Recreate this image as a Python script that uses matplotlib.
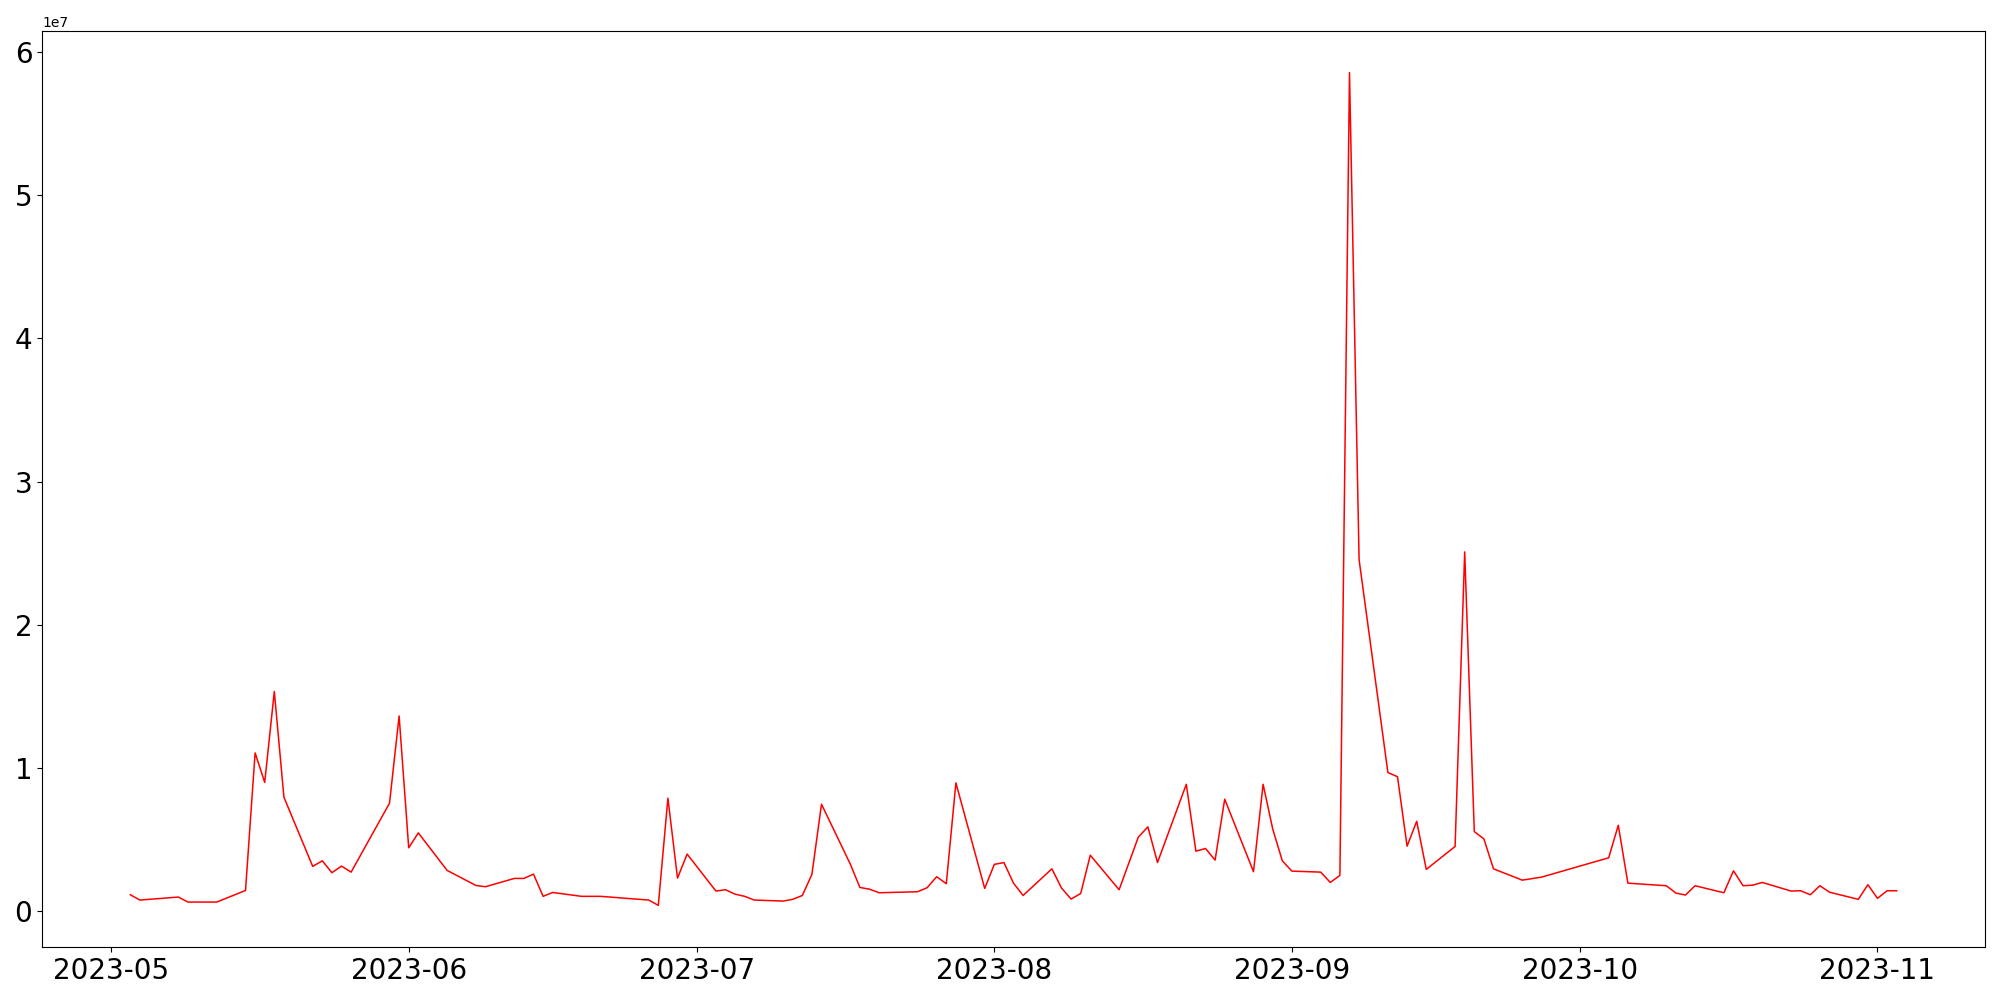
import matplotlib
matplotlib.use("Agg")
import matplotlib.pyplot as plt
import pandas as pd

# trading days with values (units of 1e7)
dates = [
    "2023-05-03", "2023-05-04", "2023-05-08", "2023-05-09", "2023-05-12",
    "2023-05-15", "2023-05-16", "2023-05-17", "2023-05-18", "2023-05-19",
    "2023-05-22", "2023-05-23", "2023-05-24", "2023-05-25", "2023-05-26",
    "2023-05-30", "2023-05-31", "2023-06-01", "2023-06-02", "2023-06-05",
    "2023-06-08", "2023-06-09", "2023-06-12", "2023-06-13", "2023-06-14",
    "2023-06-15", "2023-06-16", "2023-06-19", "2023-06-21", "2023-06-26",
    "2023-06-27", "2023-06-28", "2023-06-29", "2023-06-30", "2023-07-03",
    "2023-07-04", "2023-07-05", "2023-07-06", "2023-07-07", "2023-07-10",
    "2023-07-11", "2023-07-12", "2023-07-13", "2023-07-14", "2023-07-17",
    "2023-07-18", "2023-07-19", "2023-07-20", "2023-07-24", "2023-07-25",
    "2023-07-26", "2023-07-27", "2023-07-28", "2023-07-31", "2023-08-01",
    "2023-08-02", "2023-08-03", "2023-08-04", "2023-08-07", "2023-08-08",
    "2023-08-09", "2023-08-10", "2023-08-11", "2023-08-14", "2023-08-16",
    "2023-08-17", "2023-08-18", "2023-08-21", "2023-08-22", "2023-08-23",
    "2023-08-24", "2023-08-25", "2023-08-28", "2023-08-29", "2023-08-30",
    "2023-08-31", "2023-09-01", "2023-09-04", "2023-09-05", "2023-09-06",
    "2023-09-07", "2023-09-08", "2023-09-11", "2023-09-12", "2023-09-13",
    "2023-09-14", "2023-09-15", "2023-09-18", "2023-09-19", "2023-09-20",
    "2023-09-21", "2023-09-22", "2023-09-25", "2023-09-27", "2023-10-04",
    "2023-10-05", "2023-10-06", "2023-10-10", "2023-10-11", "2023-10-12",
    "2023-10-13", "2023-10-16", "2023-10-17", "2023-10-18", "2023-10-19",
    "2023-10-20", "2023-10-23", "2023-10-24", "2023-10-25", "2023-10-26",
    "2023-10-27", "2023-10-30", "2023-10-31", "2023-11-01", "2023-11-02",
    "2023-11-03",
]

volume_e7 = [
    0.116, 0.079, 0.100, 0.065, 0.065,
    0.146, 1.106, 0.900, 1.535, 0.797,
    0.314, 0.353, 0.270, 0.316, 0.274,
    0.755, 1.364, 0.444, 0.548, 0.286,
    0.181, 0.172, 0.230, 0.230, 0.260,
    0.105, 0.132, 0.105, 0.105, 0.079,
    0.042, 0.790, 0.232, 0.400, 0.142,
    0.151, 0.120, 0.105, 0.079, 0.072,
    0.084, 0.111, 0.258, 0.748, 0.330,
    0.167, 0.155, 0.130, 0.137, 0.165,
    0.242, 0.193, 0.897, 0.160, 0.328,
    0.341, 0.197, 0.111, 0.297, 0.163,
    0.086, 0.125, 0.392, 0.151, 0.518,
    0.590, 0.341, 0.887, 0.420, 0.439,
    0.358, 0.783, 0.277, 0.887, 0.576,
    0.353, 0.281, 0.274, 0.202, 0.251,
    5.854, 2.455, 0.969, 0.940, 0.455,
    0.629, 0.293, 0.453, 2.509, 0.557,
    0.506, 0.297, 0.218, 0.239, 0.374,
    0.601, 0.197, 0.179, 0.128, 0.114,
    0.179, 0.130, 0.283, 0.179, 0.183,
    0.202, 0.142, 0.144, 0.116, 0.179,
    0.134, 0.084, 0.186, 0.091, 0.144,
    0.144,
]

x = pd.to_datetime(dates)
y = [v * 1e7 for v in volume_e7]

fig, ax = plt.subplots(figsize=(20, 10), dpi=100)
ax.plot(x, y, color="red", linewidth=1.1)

plt.xticks(fontsize=20)
plt.yticks(fontsize=20)

fig.subplots_adjust(left=0.021, right=0.9925, top=0.969, bottom=0.053)
fig.savefig("out.png", dpi=100)
